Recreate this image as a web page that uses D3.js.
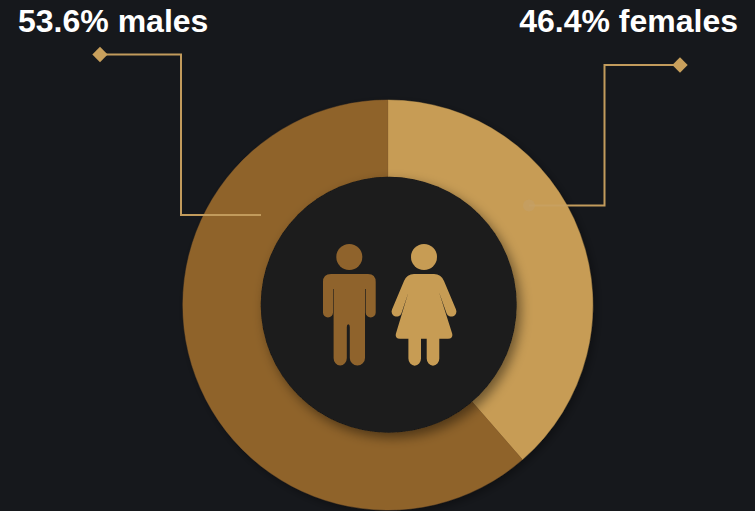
<!DOCTYPE html>
<html>
<head>
<meta charset="utf-8">
<script src="https://cdn.jsdelivr.net/npm/d3@7"></script>
<style>
  html, body { margin: 0; padding: 0; background: #16181c; overflow: hidden; }
  text { font-family: "Liberation Sans", Arial, sans-serif; font-weight: 700; fill: #ffffff; }
</style>
</head>
<body>
<div id="chart"></div>
<script>
const categories = ["females", "males"]
const sliceValues = [38.6, 61.4]
const labels = ["46.4% females", "53.6% males"]
const colors = ["#c79c54", "#8f632c"]
const lineColor = "#c29b5c"

const dimensions = {
  width: 755,
  height: 511,
  centerX: 387.8,
  centerY: 305,
  outerRadius: 205,
  innerRadius: 128,
}

const wrapper = d3.select("#chart")
  .append("svg")
  .attr("width", dimensions.width)
  .attr("height", dimensions.height)
  .style("display", "block")

const defs = wrapper.append("defs")

const addShadow = (id, blur, dx, dy, opacity) => {
  const filter = defs.append("filter")
    .attr("id", id)
    .attr("x", "-30%").attr("y", "-30%")
    .attr("width", "160%").attr("height", "160%")
  filter.append("feDropShadow")
    .attr("dx", dx)
    .attr("dy", dy)
    .attr("stdDeviation", blur)
    .attr("flood-color", "#000")
    .attr("flood-opacity", opacity)
}
addShadow("ring-shadow", 4, 3, 3, 0.35)
addShadow("hole-shadow", 6, 4, 5, 0.45)

const bounds = wrapper.append("g")
  .attr("transform", `translate(${dimensions.centerX}, ${dimensions.centerY})`)

// Donut
const pie = d3.pie().sort(null)
const arc = d3.arc()
  .innerRadius(dimensions.innerRadius - 2)
  .outerRadius(dimensions.outerRadius)

const ring = bounds.append("g").attr("filter", "url(#ring-shadow)")
ring.selectAll("path")
  .data(pie(sliceValues))
  .join("path")
  .attr("class", (d, i) => categories[i])
  .attr("fill", (d, i) => colors[i])
  .attr("stroke", (d, i) => colors[i])
  .attr("stroke-width", 0.4)
  .attr("d", arc)

// Callouts (page coordinates)
const callouts = wrapper.append("g")
const leader = d3.line()

callouts.append("path")
  .attr("d", leader([[100, 54.5], [181, 54.5], [181, 215], [261, 215]]))
  .attr("fill", "none")
  .attr("stroke", lineColor)
  .attr("stroke-width", 2)

callouts.append("path")
  .attr("d", leader([[567, 205.5], [604.5, 205.5], [604.5, 65], [680, 65]]))
  .attr("fill", "none")
  .attr("stroke", lineColor)
  .attr("stroke-width", 2)

// the part over the light slice is barely visible in the source
callouts.append("path")
  .attr("d", leader([[529, 205.5], [567, 205.5]]))
  .attr("fill", "none")
  .attr("stroke", "#c8a468")
  .attr("stroke-width", 2)
  .attr("opacity", 0.6)

const diamond = d3.symbol().type(d3.symbolSquare).size(118)
callouts.selectAll(".diamond")
  .data([[100, 54.5], [680, 65]])
  .join("path")
  .attr("class", "diamond")
  .attr("d", diamond)
  .attr("fill", "#c9a05c")
  .attr("transform", d => `translate(${d[0]}, ${d[1]}) rotate(45)`)

callouts.append("circle")
  .attr("cx", 529)
  .attr("cy", 205.5)
  .attr("r", 6)
  .attr("fill", "#c2a06a")
  .attr("opacity", 0.55)

// Centre hole
wrapper.append("circle")
  .attr("cx", 388.7)
  .attr("cy", 304.7)
  .attr("r", dimensions.innerRadius)
  .attr("fill", "#1a1a1a")
  .attr("filter", "url(#hole-shadow)")

// Figures
const man = wrapper.append("g").attr("fill", colors[1])
man.append("circle").attr("cx", 349.3).attr("cy", 257).attr("r", 13)
man.append("path").attr("d", `
  M331 274 H368 Q375.7 274 375.7 282 V312.5 A5 5 0 0 1 365.7 312.5 V289 H365 V358 A7.6 7.6 0 0 1 349.8 358
  V327 A1.5 2.8 0 0 0 346.8 327 V358 A6.6 7.6 0 0 1 333.6 358 V289 H333 V312.5 A5 5 0 0 1 323 312.5 V282 Q323 274 331 274 Z`)

const woman = wrapper.append("g").attr("fill", colors[0])
woman.append("circle").attr("cx", 424).attr("cy", 257).attr("r", 13)
woman.append("path").attr("d", `
  M414 274 H434 Q441 274 444 281 L456 309.5 A5 5 0 0 1 446.6 313.5 L439 292 L452.3 334
  Q453 338.7 448 338.7 H439.3 V358.5 A6.3 7.2 0 0 1 426.7 358.5 V338.7 H421 V358.5 A6.3 7.2 0 0 1 408.4 358.5 V338.7 H400
  Q395 338.7 395.8 334 L408.5 292 L401.4 313.5 A5 5 0 0 1 392 309.5 L404 281 Q407 274 414 274 Z`)

// Labels
wrapper.append("text")
  .attr("x", 738)
  .attr("y", 32)
  .attr("text-anchor", "end")
  .attr("font-size", 32)
  .text(labels[0])

wrapper.append("text")
  .attr("x", 18)
  .attr("y", 32)
  .attr("font-size", 32)
  .text(labels[1])
</script>
</body>
</html>
